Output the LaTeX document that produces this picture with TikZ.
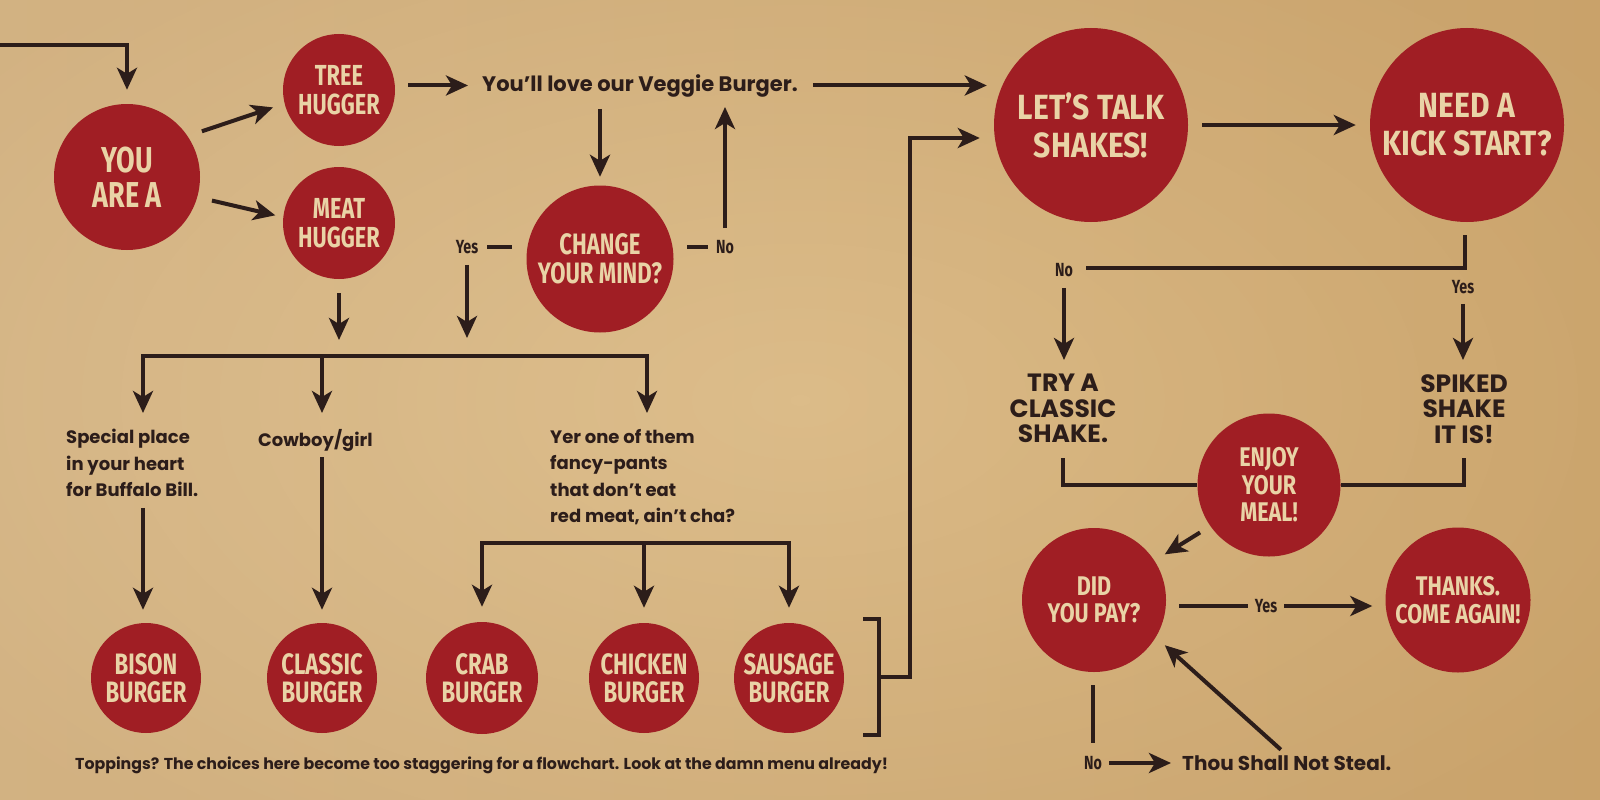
\documentclass[tikz,border=0pt]{standalone}
\usepackage{fontspec}
\setmainfont{Poppins}
\newfontfamily\cfA[FakeStretch=0.75]{Fira Sans}
\newfontfamily\cfB[FakeStretch=0.80]{Fira Sans}
\newfontfamily\cfC[FakeStretch=0.86]{Fira Sans}
\usetikzlibrary{arrows.meta,calc,fadings}
\definecolor{bgL}{RGB}{226,198,152}
\definecolor{bgR}{RGB}{214,178,122}
\definecolor{bgD}{RGB}{150,100,45}
\definecolor{cred}{RGB}{160,30,36}
\definecolor{ccream}{RGB}{233,211,166}
\definecolor{ink}{RGB}{44,29,26}
\tikzfading[name=vign, inner color=transparent!100, outer color=transparent!0]
\begin{document}
\begin{tikzpicture}[x=1pt,y=-1pt,
 circ/.style={circle, fill=cred, text=ccream, align=center, inner sep=0pt},
 cyou/.style={circ, minimum size=146pt, font=\cfA\bfseries\fontsize{36}{35}\selectfont},
 cbig/.style={circ, minimum size=194pt, font=\cfC\bfseries\fontsize{35}{38}\selectfont},
 cmid/.style={circ, minimum size=112pt, font=\cfA\bfseries\fontsize{29}{29}\selectfont},
 cburg/.style={circ, minimum size=110pt, font=\cfA\bfseries\fontsize{29.5}{28}\selectfont},
 cchg/.style={circ, minimum size=147pt, font=\cfA\bfseries\fontsize{29.5}{29}\selectfont},
 csml/.style={circ, minimum size=144pt, font=\cfB\bfseries\fontsize{27}{27.5}\selectfont},
 txt/.style={inner sep=0pt, text=ink, align=left, font=\bfseries\fontsize{18}{26.5}\selectfont},
 capstxt/.style={inner sep=0pt, text=ink, align=center, font=\bfseries\fontsize{25}{25.5}\selectfont},
 yn/.style={inner sep=0pt, text=ink, font=\cfA\bfseries\fontsize{19}{19}\selectfont},
 ln/.style={draw=ink, line width=4pt},
 arr/.style={ln, -{Stealth[length=22pt,width=20pt,inset=6pt]}}
]
\useasboundingbox (0,0) rectangle (1600,800);
\shade[left color=bgL, right color=bgR] (0,0) rectangle (1600,800);
\fill[bgD, fill opacity=0.2, path fading=vign] (-200,-150) rectangle (1800,950);

% circles
\node[cyou] (you) at (127,177) {YOU\\ARE A};
\node[cmid] (tree) at (339,90) {TREE\\HUGGER};
\node[cmid] (meat) at (339,223) {MEAT\\HUGGER};
\node[cchg] (change) at (600,259) {CHANGE\\YOUR MIND?};
\node[cbig] (shakes) at (1091,125) {LET’S TALK\\SHAKES!};
\node[cbig] (kick) at (1467,125) {NEED A\\KICK START?};
\node[csml, minimum size=143pt] (enjoy) at (1269,485) {ENJOY\\YOUR\\MEAL!};
\node[csml] (didpay) at (1094,600) {DID\\YOU PAY?};
\node[csml, minimum size=145pt] (thanks) at (1458,600) {THANKS.\\COME AGAIN!};
\node[cburg] (bison) at (146,678) {BISON\\BURGER};
\node[cburg] (classic) at (322,678) {CLASSIC\\BURGER};
\node[cburg, minimum size=112pt] (crab) at (482,678) {CRAB\\BURGER};
\node[cburg] (chicken) at (644,678) {CHICKEN\\BURGER};
\node[cburg] (sausage) at (789,678) {SAUSAGE\\BURGER};

% texts
\node[txt, anchor=base west, font=\bfseries\fontsize{21}{22}\selectfont] (veggie) at (482,91) {You’ll love our Veggie Burger.};
\node[yn] (noC) at (725,247) {No};
\node[yn] (yesC) at (467,247) {Yes};
\node[txt, anchor=north west] (spec) at (66,429) {Special place\\in your heart\\for Buffalo Bill.};
\node[txt, anchor=north west] (cowboy) at (258,429) {Cowboy/girl};
\node[txt, anchor=north west] (yer) at (550,429) {Yer one of them\\fancy-pants\\that don’t eat\\red meat, ain’t cha?};
\node[yn] (noK) at (1064,270) {No};
\node[yn] (yesK) at (1463,287) {Yes};
\node[capstxt, anchor=north] (try) at (1063,374) {TRY A\\CLASSIC\\SHAKE.};
\node[capstxt, anchor=north] (spiked) at (1464,374) {SPIKED\\SHAKE\\IT IS!};
\node[yn] (yesP) at (1266,606) {Yes};
\node[yn] (noP) at (1093,763) {No};
\node[txt, anchor=base west, font=\bfseries\fontsize{20}{22}\selectfont] (steal) at (1182,770) {Thou Shall Not Steal.};
\node[txt, anchor=base west, font=\bfseries\fontsize{15.8}{17}\selectfont] (toppings) at (75,769) {Toppings? The choices here become too staggering for a flowchart. Look at the damn menu already!};

% coordinates
\coordinate (entry) at (0,45);
\coordinate (barL) at (143,356);
\coordinate (barM) at (322,356);
\coordinate (barR) at (647,356);
\coordinate (ybL) at (482,543);
\coordinate (ybR) at (789,543);
\coordinate (brT) at (863,619);
\coordinate (brB) at (863,735);
\coordinate (brX) at (879,677);
\coordinate (upX) at (910,138);
\coordinate (kJ) at (1465,268);

% connectors
\draw[arr, shorten >=14pt] (entry) -| (you.north);
\draw[arr, shorten <=15pt, shorten >=12pt] (you.34) -- (tree.194);
\draw[arr, shorten <=15pt, shorten >=8pt] (you.-16) -- (meat.174);
\draw[arr, shorten <=13pt, shorten >=14pt] (tree.east |- veggie.west) -- (veggie.west);
\draw[arr, shorten <=15pt, shorten >=7pt] (veggie.east) -- (veggie.east -| shakes.west);
\draw[arr, shorten <=12pt, shorten >=8.5pt] (veggie.south -| change.north) -- (change.north);
\draw[ln, shorten <=13.5pt, shorten >=8pt] (change.east |- noC.west) -- (noC.west);
\draw[arr, shorten <=12pt, shorten >=10pt] (noC.north) -- (noC.north |- veggie.south);
\draw[ln, shorten <=9pt, shorten >=14.5pt] (yesC.east) -- (change.west |- yesC.east);
\draw[arr, shorten <=11pt, shorten >=18pt] (yesC.south) -- (yesC.south |- barL);
\draw[arr, shorten <=14pt, shorten >=16pt] (meat.south) -- (meat.south |- barL);
\draw[ln, line cap=rect] (barL) -- (barR);
\draw[arr, shorten >=16pt] (barL) -- (barL |- spec.north);
\draw[arr, shorten >=16pt] (barM) -- (barM |- cowboy.north);
\draw[arr, shorten >=16pt] (barR) -- (barR |- yer.north);
\draw[arr, shorten <=11pt, shorten >=13pt] (spec.south -| barL) -- (barL |- bison.north);
\draw[arr, shorten <=6pt, shorten >=13pt] (cowboy.south -| classic.north) -- (classic.north);
\draw[ln, line cap=rect] (ybL) -- (ybR);
\draw[arr, shorten >=15pt] (ybL) -- (crab.north);
\draw[arr, shorten >=15pt] (ybL -| chicken.north) -- (chicken.north);
\draw[arr, shorten >=15pt] (ybR) -- (sausage.north);
\draw[ln] (brT) -- (brT -| brX) -- (brB -| brX) -- (brB);
\draw[arr, shorten >=14pt] (brX) -- (brX -| upX) -- (upX) -- (upX -| shakes.west);
\draw[arr, shorten <=14pt, shorten >=14pt] (shakes.east) -- (kick.west);
\draw[ln, shorten <=13pt, shorten >=12.5pt] (kick.south -| kJ) -- (kJ) -- (noK.east |- kJ);
\draw[arr, shorten <=10pt, shorten >=14pt] (yesK.south) -- (yesK.south |- spiked.north);
\draw[arr, shorten <=11pt, shorten >=14pt] (noK.south) -- (noK.south |- try.north);
\draw[ln, shorten <=15pt] (try.south) |- (enjoy.west);
\draw[ln, shorten <=15pt] (spiked.south) |- (enjoy.east);
\draw[arr, shorten <=12pt, shorten >=12pt] (enjoy.215) -- (didpay.33);
\draw[ln, shorten <=13pt, shorten >=7pt] (didpay.east |- yesP.west) -- (yesP.west);
\draw[arr, shorten <=7pt, shorten >=13pt] (yesP.east) -- (yesP.east -| thanks.west);
\draw[ln, shorten <=13pt, shorten >=13pt] (didpay.south -| noP.north) -- (noP.north);
\draw[arr, shorten <=7pt, shorten >=11pt] (noP.east) -- (noP.east -| steal.west);
\draw[arr, shorten <=8pt, shorten >=12pt] (steal.north) -- (didpay.-31);
\end{tikzpicture}
\end{document}
